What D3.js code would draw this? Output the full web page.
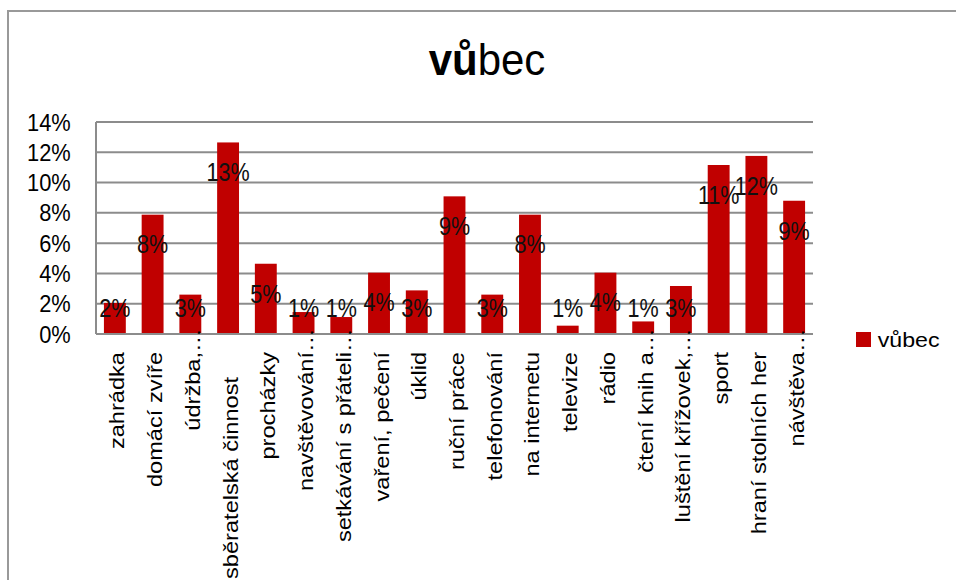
<!DOCTYPE html>
<html>
<head>
<meta charset="utf-8">
<script src="https://cdn.jsdelivr.net/npm/d3@7"></script>
<style>
  html, body { margin: 0; padding: 0; background: #fff; }
  svg { display: block; }
  text { font-family: "Liberation Sans", Arial, sans-serif; fill: #000; }
</style>
</head>
<body>
<svg id="chart" width="956" height="580"></svg>
<script>
// Activities, full-length names (ellipsis marks labels that are cut short)
const categories = [
  "zahrádka", "domácí zvíře", "údržba,…", "sběratelská činnost", "procházky",
  "navštěvování…", "setkávání s přáteli…", "vaření, pečení", "úklid", "ruční práce",
  "telefonování", "na internetu", "televize", "rádio", "čtení knih a…",
  "luštění křížovek,…", "sport", "hraní stolních her", "návštěva…"
];
// Share answering "vůbec"
const values = [
  0.0205, 0.0788, 0.026, 0.1265, 0.0464,
  0.0145, 0.0112, 0.0405, 0.0288, 0.0909,
  0.026, 0.0788, 0.0055, 0.0405, 0.0083,
  0.0317, 0.1116, 0.1176, 0.088
];
const yTicks = [0, 0.02, 0.04, 0.06, 0.08, 0.10, 0.12, 0.14];
const seriesName = "vůbec";

const data = categories.map((c, i) => ({ cat: c, value: values[i] }));

const svg = d3.select("#chart");
const plot = { left: 96, right: 813, top: 122, bottom: 334 };
const barColor = "#C00000";
const gridColor = "#8c8c8c";

// outer chart frame
svg.append("rect")
  .attr("x", 8).attr("y", 11).attr("width", 1000).attr("height", 1000)
  .attr("fill", "none").attr("stroke", "#999").attr("stroke-width", 2);

const x = d3.scaleBand()
  .domain(categories)
  .range([plot.left, plot.right])
  .paddingInner(0.42)
  .paddingOuter(0.21);

const y = d3.scaleLinear()
  .domain([0, 0.14])
  .range([plot.bottom, plot.top]);

const pct = d3.format(".0%");

// title
const title = svg.append("text")
  .attr("transform", "translate(487,75) scale(0.954,1)")
  .attr("text-anchor", "middle")
  .style("font-size", "44px");
title.append("tspan").attr("font-weight", "bold").text("vů");
title.append("tspan").text("bec");

// horizontal gridlines
svg.append("g")
  .selectAll("line")
  .data(yTicks)
  .join("line")
  .attr("x1", plot.left).attr("x2", plot.right)
  .attr("y1", d => y(d)).attr("y2", d => y(d))
  .attr("stroke", gridColor).attr("stroke-width", 2);

// value axis line
svg.append("line")
  .attr("x1", plot.left).attr("x2", plot.left)
  .attr("y1", y(0.14)).attr("y2", y(0))
  .attr("stroke", gridColor).attr("stroke-width", 2);

// value axis labels
svg.append("g")
  .selectAll("text")
  .data(yTicks)
  .join("text")
  .attr("transform", d => `translate(70.7,${y(d) + 8.6}) scale(0.91,1)`)
  .attr("text-anchor", "end")
  .style("font-size", "24px")
  .text(d => pct(d));

// bars
svg.append("g")
  .selectAll("rect")
  .data(data)
  .join("rect")
  .attr("x", d => x(d.cat))
  .attr("width", x.bandwidth())
  .attr("y", d => y(d.value))
  .attr("height", d => y(0) - y(d.value))
  .attr("fill", barColor);

// category axis line
svg.append("line")
  .attr("x1", plot.left).attr("x2", plot.right)
  .attr("y1", y(0)).attr("y2", y(0))
  .attr("stroke", gridColor).attr("stroke-width", 2);

// data labels, just inside the bar top, kept clear of the baseline
svg.append("g")
  .selectAll("text")
  .data(data)
  .join("text")
  .attr("transform", d => {
    const cx = x(d.cat) + x.bandwidth() / 2;
    const cy = Math.min(y(d.value) + 29.5, 308);
    return `translate(${cx},${cy + 9.3}) scale(0.83,1)`;
  })
  .attr("text-anchor", "middle")
  .style("font-size", "26px")
  .style("fill", "#111")
  .text(d => pct(d.value));

// rotated category labels; a label longer than the label area is pushed down
const labelTop = 352;
const labelArea = 195;
const catG = svg.append("g");
data.forEach(d => {
  const cx = x(d.cat) + x.bandwidth() / 2 + 9.5;
  const cut = d.cat.endsWith("…");
  const main = cut ? d.cat.slice(0, -1) : d.cat;
  const t = catG.append("text")
    .attr("text-anchor", "end")
    .style("font-size", "23.6px")
    .text(main);
  const len = t.node().getComputedTextLength();
  const top = len > labelArea ? labelTop + 25 : labelTop;
  const tf = `translate(${cx},${top}) scale(0.89,1) rotate(-90)`;
  t.attr("transform", tf);
  if (cut) {
    catG.append("text")
      .attr("transform", tf)
      .attr("text-anchor", "start")
      .style("font-size", "23.6px")
      .text("…");
  }
});

// legend
svg.append("rect")
  .attr("x", 856).attr("y", 332).attr("width", 15).attr("height", 15)
  .attr("fill", barColor);
svg.append("text")
  .attr("transform", "translate(877.7,346.7) scale(1.16,1)")
  .style("font-size", "20px")
  .text(seriesName);
</script>
</body>
</html>
